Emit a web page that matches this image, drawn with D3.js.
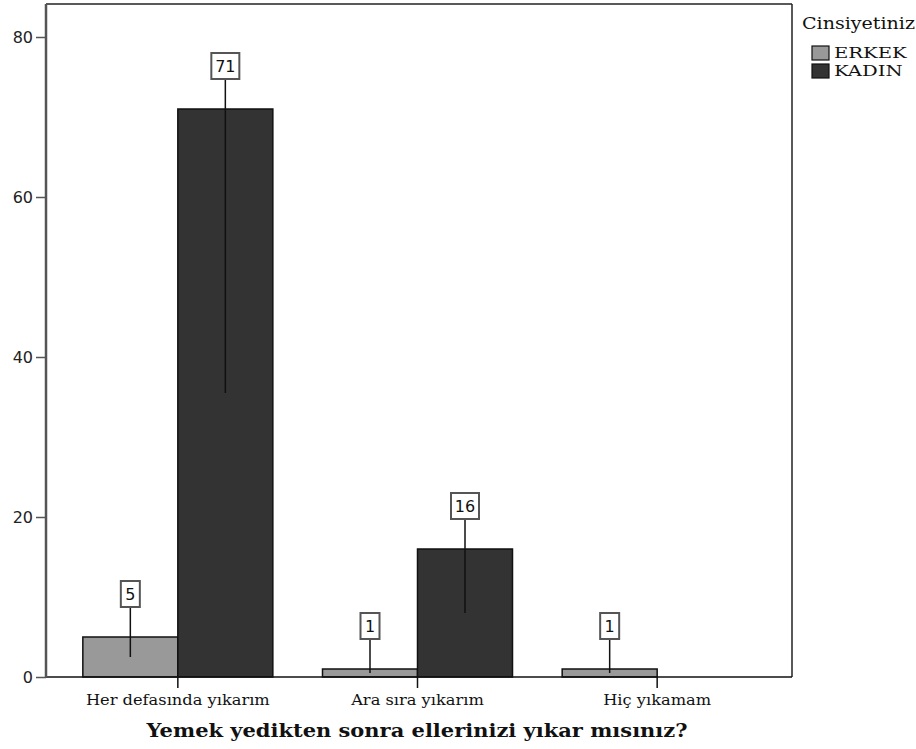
<!DOCTYPE html>
<html><head><meta charset="utf-8">
<script src="https://cdn.jsdelivr.net/npm/d3@7"></script>
<style>body{margin:0;background:#fff}</style>
</head><body>
<svg id="chart" width="916" height="749"></svg>
<script>
const categories = ["Her defasında yıkarım", "Ara sıra yıkarım", "Hiç yıkamam"];
const seriesNames = ["ERKEK", "KADIN"];
const erkek = [5, 1, 1];
const kadin = [71, 16, 0];
const yTicks = [0, 20, 40, 60, 80];
const colors = ["#999999", "#333333"];
const xTitle = "Yemek yedikten sonra ellerinizi yıkar mısınız?";
const legendTitle = "Cinsiyetiniz";

(function () {
const svg = d3.select("#chart");
const pL = 46, pR = 792, pT = 4, pB = 677;

// widen serif text to mimic the wide original face
function stretch(sel, f) {
  sel.each(function () {
    const w = this.getComputedTextLength();
    d3.select(this).attr("textLength", w * f).attr("lengthAdjust", "spacingAndGlyphs");
  });
}

const y = d3.scaleLinear().domain([0, 80]).range([pB, 37]);
const x = d3.scaleBand().domain(categories).range([58, 777]).paddingInner(0).paddingOuter(0);
const groupW = 190;
const xs = d3.scaleBand().domain(seriesNames).range([0, groupW]);

// frame
svg.append("line").attr("x1", pL).attr("x2", pR).attr("y1", pT).attr("y2", pT).attr("stroke", "#222").attr("stroke-width", 1.5);
svg.append("line").attr("x1", pR).attr("x2", pR).attr("y1", pT).attr("y2", pB).attr("stroke", "#222").attr("stroke-width", 1.5);

const data = [];
categories.forEach((c, i) => {
  data.push({cat: c, s: "ERKEK", v: erkek[i]});
  data.push({cat: c, s: "KADIN", v: kadin[i]});
});

const gx = c => x(c) + (x.bandwidth() - groupW) / 2;

svg.append("g").selectAll("rect").data(data.filter(d => d.v > 0)).join("rect")
  .attr("x", d => gx(d.cat) + xs(d.s))
  .attr("y", d => y(d.v))
  .attr("width", xs.bandwidth())
  .attr("height", d => y(0) - y(d.v))
  .attr("fill", d => colors[seriesNames.indexOf(d.s)])
  .attr("stroke", "#111").attr("stroke-width", 1.5);

// x axis line and ticks
svg.append("line").attr("x1", pL).attr("x2", pR).attr("y1", pB).attr("y2", pB).attr("stroke", "#111").attr("stroke-width", 1.5);
const xAxis = d3.axisBottom(x).tickSize(11).tickSizeOuter(0).tickPadding(5);
const gX = svg.append("g").attr("transform", `translate(0,${pB})`).call(xAxis);
gX.select(".domain").remove();
gX.selectAll(".tick line").attr("stroke", "#111").attr("stroke-width", 1.5);
gX.selectAll(".tick text").attr("font-family", "DejaVu Serif").attr("font-size", 14).attr("fill", "#111").attr("dy", "0.85em")
  .call(stretch, 1.16);

// y axis
const yAxis = d3.axisLeft(y).tickValues(yTicks).tickSize(10).tickSizeOuter(0).tickPadding(3);
const gY = svg.append("g").attr("transform", `translate(${pL},0)`).call(yAxis);
gY.select(".domain").attr("d", `M0,${pT}V${pB}`).attr("stroke", "#555").attr("stroke-width", 2.5);
gY.selectAll(".tick line").attr("stroke", "#555").attr("stroke-width", 1.5);
gY.selectAll(".tick text").attr("font-family", "DejaVu Sans").attr("font-size", 16).attr("fill", "#222");

// value labels
const lab = svg.append("g");
data.filter(d => d.v > 0).forEach(d => {
  const cx = gx(d.cat) + xs(d.s) + xs.bandwidth() / 2;
  const cy = y(d.v) - 43;
  const txt = String(d.v);
  const w = txt.length > 1 ? 28 : 19, h = 26;
  lab.append("line").attr("x1", cx).attr("x2", cx).attr("y1", cy + h / 2).attr("y2", y(d.v / 2))
    .attr("stroke", "#111").attr("stroke-width", 1.5);
  lab.append("rect").attr("x", cx - w / 2).attr("y", cy - h / 2).attr("width", w).attr("height", h)
    .attr("fill", "#fff").attr("stroke", "#555").attr("stroke-width", 2);
  lab.append("text").attr("x", cx).attr("y", cy).attr("dy", "0.36em").attr("text-anchor", "middle")
    .attr("font-family", "DejaVu Sans").attr("font-size", 16).attr("fill", "#111").text(txt);
});

// x title
svg.append("text").attr("x", 417).attr("y", 737).attr("text-anchor", "middle")
  .attr("font-family", "DejaVu Serif").attr("font-weight", "bold").attr("font-size", 18).attr("fill", "#111")
  .text(xTitle).call(stretch, 1.165);

// legend
const lg = svg.append("g");
lg.append("text").attr("x", 802).attr("y", 29).attr("font-family", "DejaVu Serif").attr("font-size", 16).attr("fill", "#111")
  .text(legendTitle).call(stretch, 1.19);
seriesNames.forEach((s, i) => {
  lg.append("rect").attr("x", 812).attr("y", 46 + i * 18).attr("width", 17).attr("height", 14)
    .attr("fill", colors[i]).attr("stroke", "#111").attr("stroke-width", 1.2);
  lg.append("text").attr("x", 834).attr("y", 58 + i * 18).attr("font-family", "DejaVu Serif").attr("font-size", 14).attr("fill", "#111")
    .text(s).call(stretch, 1.4);
});
})();
</script>
</body></html>
